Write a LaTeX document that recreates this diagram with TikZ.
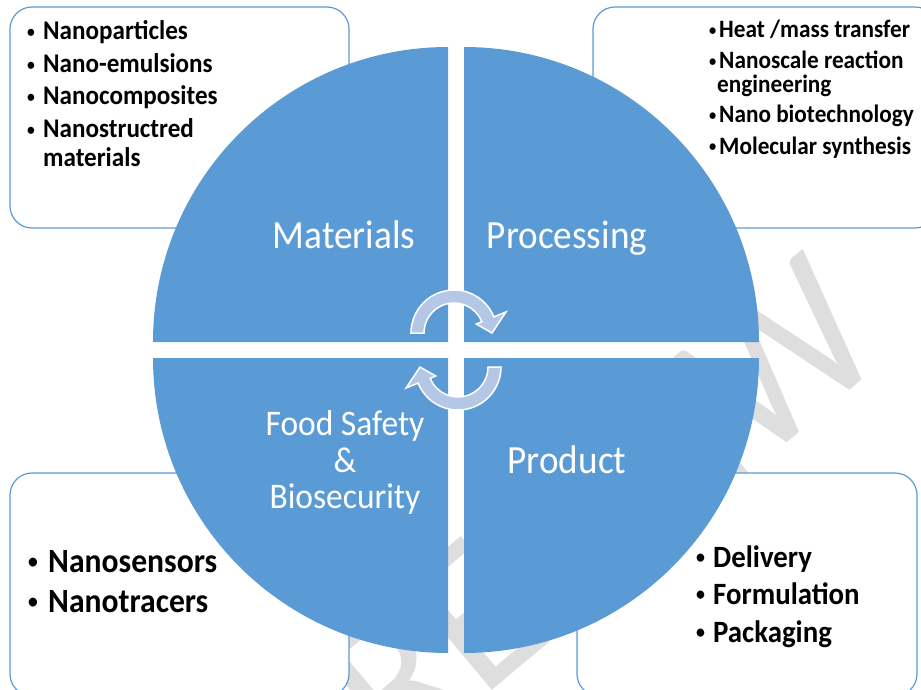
\documentclass[tikz,border=0pt]{standalone}
\usepackage{fontspec}
\setmainfont{Carlito}[FakeStretch=0.93]
\usetikzlibrary{positioning}

\definecolor{quadblue}{RGB}{91,155,213}
\definecolor{cyclearrow}{RGB}{180,199,231}
\definecolor{wmgray}{RGB}{222,222,222}

\newcommand{\lbul}[1]{\makebox[#1][l]{\raisebox{0.1em}{\scalebox{0.62}{\textbullet}}}}

\tikzset{
  listbox/.style={draw=quadblue, line width=1.2pt, rounded corners=22pt, fill=white},
  quad/.style={fill=quadblue},
  cyc/.style={fill=cyclearrow, draw=white, line width=1.5pt},
  quadlabel/.style={text=white, anchor=base, inner sep=0pt, font=\fontsize{#1}{#1}\selectfont},
  listitem/.style={anchor=base west, inner sep=0pt, font=\bfseries\fontsize{#1}{#1}\selectfont},
}

\begin{document}
\begin{tikzpicture}[x=1pt,y=-1pt]
  \useasboundingbox (0,0) rectangle (921,690);

  % watermark
  \node[rotate=40, text=wmgray, font=\fontsize{215}{215}\selectfont] (wm) at (601,509) {REVIEW};

  % boxes behind the circle
  \draw[listbox] (10,7) rectangle (349,228);
  \draw[listbox] (593,7) rectangle (937,228);
  \draw[listbox] (10,473) rectangle (349,696);
  \draw[listbox] (577,473) rectangle (917,696);

  % four quarters
  \fill[quad] (448,342) -- (153,342) arc[start angle=180, end angle=270, radius=295] -- cycle;
  \fill[quad] (464,342) -- (464,47) arc[start angle=270, end angle=360, radius=295] -- cycle;
  \fill[quad] (464,358) -- (759,358) arc[start angle=0, end angle=90, radius=295] -- cycle;
  \fill[quad] (448,358) -- (448,653) arc[start angle=90, end angle=180, radius=295] -- cycle;

  % cycle arrows
  \begin{scope}[shift={(454,333)}]
    \draw[cyc] (180:43) arc[start angle=180, end angle=338, radius=43]
      -- (338:56) -- (360:38) -- (338:24) -- (338:30)
      arc[start angle=338, end angle=180, radius=30] -- cycle;
  \end{scope}
  \begin{scope}[shift={(458,367)}]
    \draw[cyc] (0:43) arc[start angle=0, end angle=158, radius=43]
      -- (158:56) -- (180:38) -- (158:24) -- (158:30)
      arc[start angle=158, end angle=0, radius=30] -- cycle;
  \end{scope}

  % quarter labels
  \node[quadlabel=40] (materials) at (344,248) {Materials};
  \node[quadlabel=40] (processing) at (567,248) {Processing};
  \node[quadlabel=40] (product) at (567,473) {Product};
  \node[quadlabel=36] (safety1) at (345,435) {Food Safety};
  \node[quadlabel=36] (safety2) at (345,472) {\&};
  \node[quadlabel=36] (safety3) at (345,508) {Biosecurity};

  % materials list
  \node[listitem=27] (mat1) at (27,40) {\lbul{16pt}Nanoparticles};
  \node[listitem=27] (mat2) at (27,73) {\lbul{16pt}Nano-emulsions};
  \node[listitem=27] (mat3) at (27,105) {\lbul{16pt}Nanocomposites};
  \node[listitem=27] (mat4) at (27,138) {\lbul{16pt}Nanostructred};
  \node[listitem=27] (mat5) at (43,166) {materials};

  % processing list
  \node[listitem=25] (proc1) at (709,38) {\lbul{10pt}Heat /mass transfer};
  \node[listitem=25] (proc2) at (709,69) {\lbul{10pt}Nanoscale reaction};
  \node[listitem=25] (proc3) at (717,93) {engineering};
  \node[listitem=25] (proc4) at (709,123) {\lbul{10pt}Nano biotechnology};
  \node[listitem=25] (proc5) at (709,154) {\lbul{10pt}Molecular synthesis};

  % safety list
  \node[listitem=34] (saf1) at (28,572) {\lbul{20pt}Nanosensors};
  \node[listitem=34] (saf2) at (28,612) {\lbul{20pt}Nanotracers};

  % product list
  \node[listitem=31] (prod1) at (696,567) {\lbul{17pt}Delivery};
  \node[listitem=31] (prod2) at (696,604) {\lbul{17pt}Formulation};
  \node[listitem=31] (prod3) at (696,642) {\lbul{17pt}Packaging};
\end{tikzpicture}
\end{document}
